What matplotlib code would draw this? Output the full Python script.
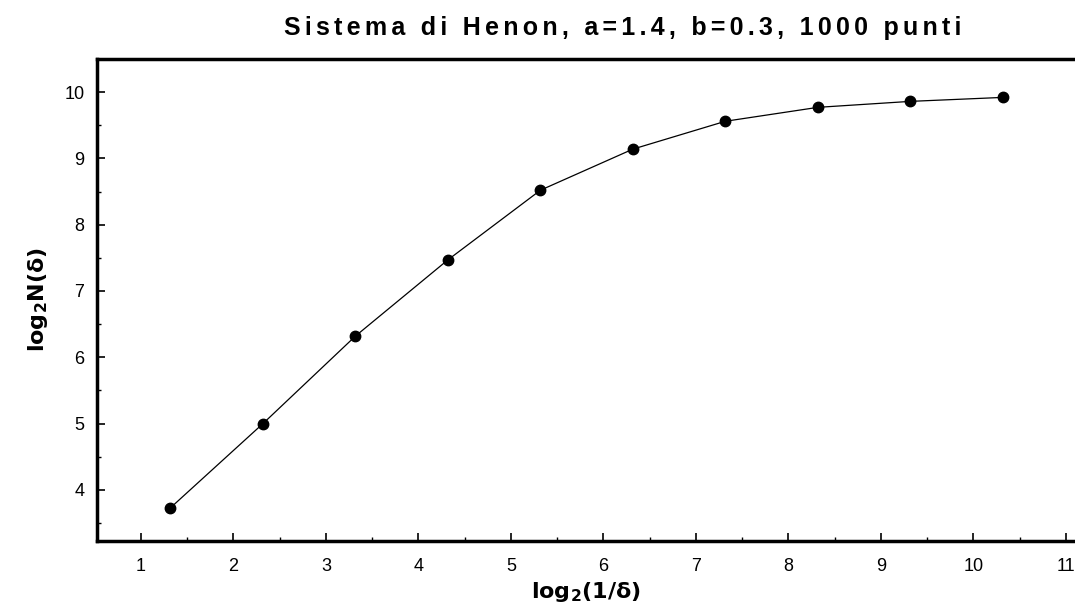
import matplotlib.pyplot as plt
from matplotlib.ticker import MultipleLocator

# box-counting data for the Henon attractor
log_inv_delta = [1.32, 2.32, 3.32, 4.32, 5.32, 6.32, 7.32, 8.32, 9.32, 10.32]
log_n_delta = [3.73, 5.00, 6.32, 7.47, 8.52, 9.14, 9.56, 9.77, 9.86, 9.92]
title = 'Sistema di Henon, a=1.4, b=0.3, 1000 punti'

plt.rcParams['font.family'] = ['Liberation Sans', 'DejaVu Sans']

fig = plt.figure(figsize=(10.75, 6.14), dpi=100)
ax = fig.add_axes([0.0902, 0.119, 0.9098, 0.785])

ax.plot(log_inv_delta, log_n_delta, color='black', linewidth=0.9,
        marker='o', markersize=7.5)

ax.set_xlim(0.525, 11.1)
ax.set_ylim(3.23, 10.5)
ax.xaxis.set_major_locator(MultipleLocator(1))
ax.xaxis.set_minor_locator(MultipleLocator(0.5))
ax.yaxis.set_major_locator(MultipleLocator(1))
ax.yaxis.set_minor_locator(MultipleLocator(0.5))
ax.tick_params(which='major', direction='in', length=6, width=1.2,
               labelsize=13, pad=9)
ax.tick_params(axis='x', which='major', pad=12)
ax.tick_params(which='minor', direction='in', length=3, width=1)

ax.spines['right'].set_visible(False)
for side in ['left', 'top', 'bottom']:
    ax.spines[side].set_linewidth(2.5)

ax.set_xlabel(r'$\mathbf{log_2(1/\delta)}$', fontsize=16, labelpad=4)
ax.set_ylabel(r'$\mathbf{log_2N(\delta)}$', fontsize=16, labelpad=10)
# spread the title letters a little
fig.text(0.579, 0.955, '\u200a\u200a'.join(title),
         ha='center', va='center', fontsize=18, fontweight='bold')

fig.savefig('out.png', dpi=100)
